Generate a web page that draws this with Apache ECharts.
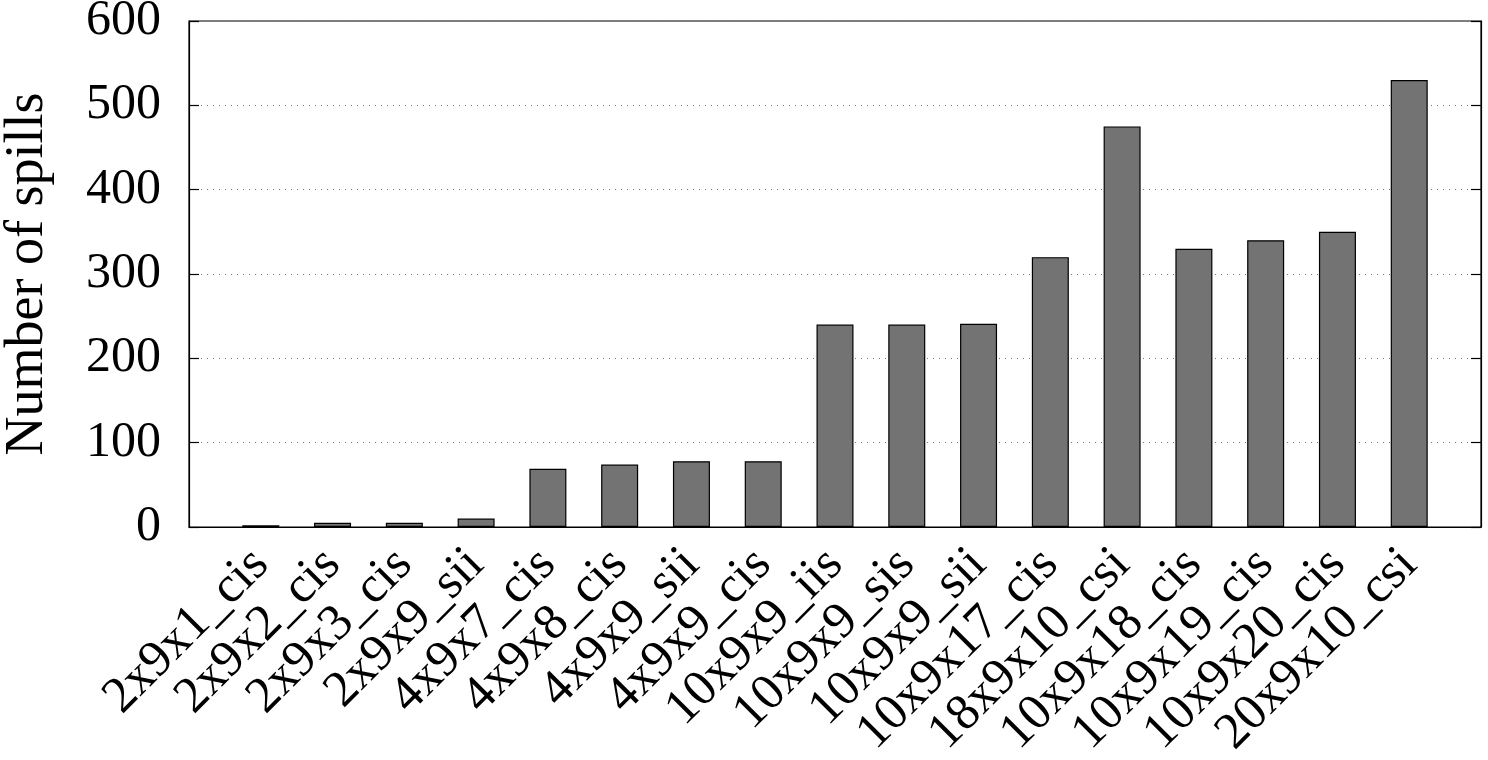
<!DOCTYPE html>
<html>
<head>
<meta charset="utf-8">
<script src="https://cdn.jsdelivr.net/npm/echarts@6/dist/echarts.min.js"></script>
<style>
html,body{margin:0;padding:0;background:#fff;}
#chart{width:1488px;height:760px;}
</style>
</head>
<body>
<div id="chart"></div>
<script>
// categories and values
var categories = ['2x9x1_cis','2x9x2_cis','2x9x3_cis','2x9x9_sii','4x9x7_cis','4x9x8_cis','4x9x9_sii','4x9x9_cis','10x9x9_iis','10x9x9_sis','10x9x9_sii','10x9x17_cis','18x9x10_csi','10x9x18_cis','10x9x19_cis','10x9x20_cis','20x9x10_csi'];
var spills = [2,5,5,10,69,74,78,78,240,240,241,320,475,330,340,350,530];
var yTicks = [0,100,200,300,400,500,600];

var fontFam = '"Liberation Serif", "DejaVu Serif", serif';

window.onload=function(){
    var myChart = echarts.init(document.getElementById('chart'));
    // x range runs one slot past the first and last bar, like the original plot
    var axisCats = [''].concat(categories).concat(['']);
    var axisVals = [null].concat(spills).concat([null]);
    var option = {
        animation:false,
        grid:{
            left:189, right:7, top:21, bottom:233,
            outerBoundsMode:'none', containLabel:false,
            show:true, borderColor:'#000', borderWidth:1.2, backgroundColor:'transparent'
        },
        xAxis:{
            type:'category',
            data:axisCats,
            boundaryGap:false,
            axisLine:{show:true,lineStyle:{color:'#000',width:1.2}},
            axisTick:{show:false},
            axisLabel:{
                rotate:45, interval:0, margin:30,
                color:'#000', fontFamily:fontFam, fontSize:51
            }
        },
        yAxis:[{
            type:'value', min:yTicks[0], max:yTicks[yTicks.length-1], interval:100,
            name:'Number of spills', nameLocation:'middle', nameGap:134,
            nameTextStyle:{color:'#000',fontFamily:fontFam,fontSize:54},
            axisLine:{show:true,lineStyle:{color:'#000',width:1.2}},
            axisTick:{show:true,inside:true,length:10,lineStyle:{color:'#000',width:1.2}},
            axisLabel:{color:'#000',fontFamily:fontFam,fontSize:50,margin:28},
            splitLine:{show:true,lineStyle:{color:'#777',type:[1,5],width:1}}
        },{
            type:'value', min:yTicks[0], max:yTicks[yTicks.length-1], interval:100,
            position:'right',
            axisLine:{show:true,lineStyle:{color:'#000',width:1.2}},
            axisTick:{show:true,inside:true,length:10,lineStyle:{color:'#000',width:1.2}},
            axisLabel:{show:false},
            splitLine:{show:false}
        }],
        series:[{
            type:'bar',
            data:axisVals,
            barWidth:37,
            itemStyle:{color:'#737373',borderColor:'#000',borderWidth:1.2}
        }]
    };
    myChart.setOption(option);
}
</script>
</body>
</html>
